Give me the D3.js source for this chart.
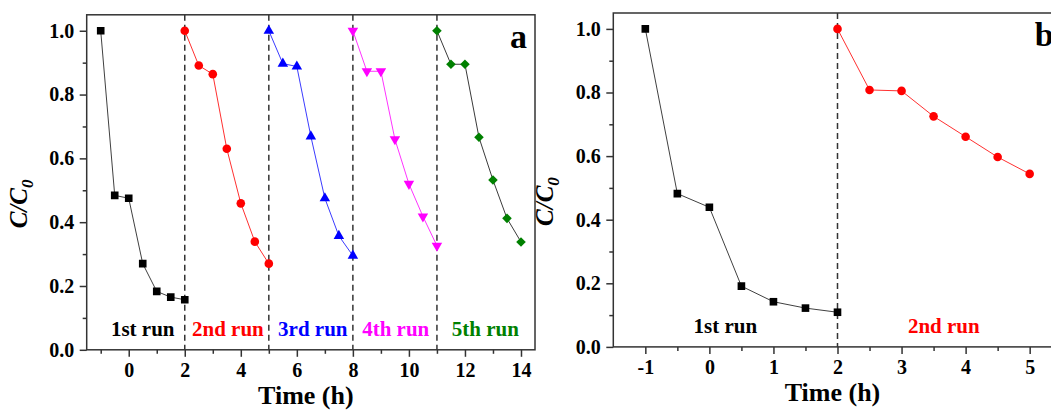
<!DOCTYPE html>
<html>
<head>
<meta charset="utf-8">
<script src="https://cdn.jsdelivr.net/npm/d3@7"></script>
<style>
  html, body { margin: 0; padding: 0; background: #ffffff; }
  svg { display: block; }
  text { font-family: "Liberation Serif", "Times New Roman", serif; font-weight: bold; }
</style>
</head>
<body>
<svg id="chart" width="1051" height="412"></svg>
<script>
// ---------------- DATA ----------------
// Panel a : five consecutive runs
const timeA1 = [-1, -0.5, 0, 0.5, 1, 1.5, 2];
const valA1  = [1.0, 0.484, 0.475, 0.270, 0.183, 0.165, 0.157];
const timeA2 = [2, 2.5, 3, 3.5, 4, 4.5, 5];
const valA2  = [1.0, 0.891, 0.864, 0.630, 0.459, 0.339, 0.270];
const timeA3 = [5, 5.5, 6, 6.5, 7, 7.5, 8];
const valA3  = [1.0, 0.897, 0.888, 0.669, 0.475, 0.357, 0.295];
const timeA4 = [8, 8.5, 9, 9.5, 10, 10.5, 11];
const valA4  = [1.0, 0.873, 0.873, 0.660, 0.520, 0.418, 0.326];
const timeA5 = [11, 11.5, 12, 12.5, 13, 13.5, 14];
const valA5  = [1.0, 0.895, 0.895, 0.666, 0.532, 0.412, 0.338];
const dividersA = [2, 5, 8, 11];
const runLabelsA = ["1st run", "2nd run", "3rd run", "4th run", "5th run"];
const runLabelXA = [0.5, 3.54, 6.57, 9.53, 12.73];

// Panel b : two runs
const timeB1 = [-1, -0.5, 0, 0.5, 1, 1.5, 2];
const valB1  = [1.0, 0.482, 0.439, 0.191, 0.142, 0.122, 0.109];
const timeB2 = [2, 2.5, 3, 3.5, 4, 4.5, 5];
const valB2  = [1.0, 0.808, 0.805, 0.725, 0.661, 0.597, 0.544];
const dividersB = [2];
const runLabelsB = ["1st run", "2nd run"];
const runLabelXB = [0.25, 3.66];

// Ticks
const xMajorA = [0, 2, 4, 6, 8, 10, 12, 14];
const xMinorA = [-1, 1, 3, 5, 7, 9, 11, 13];
const xMajorB = [-1, 0, 1, 2, 3, 4, 5];
const xMinorB = [-0.5, 0.5, 1.5, 2.5, 3.5, 4.5];
const yMajor = [0, 0.2, 0.4, 0.6, 0.8, 1.0];
const yMinor = [0.1, 0.3, 0.5, 0.7, 0.9];

// ---------------- STYLE ----------------
const styles = [
  { marker: "#000000", line: "#404040", shape: "square" },
  { marker: "#ff0000", line: "#ff3030", shape: "circle" },
  { marker: "#0000ff", line: "#3b3bff", shape: "triangleUp" },
  { marker: "#ff00ff", line: "#ff33ff", shape: "triangleDown" },
  { marker: "#008000", line: "#3a3a3a", shape: "diamond" }
];

const svg = d3.select("#chart");

function symbolPath(shape) {
  switch (shape) {
    case "square": return { p: d3.symbol(d3.symbolSquare, 58)(), rot: 0 };
    case "circle": return { p: d3.symbol(d3.symbolCircle, 58)(), rot: 0 };
    case "triangleUp": return { p: d3.symbol(d3.symbolTriangle, 48)(), rot: 0 };
    case "triangleDown": return { p: d3.symbol(d3.symbolTriangle, 48)(), rot: 180 };
    case "diamond": return { p: d3.symbol(d3.symbolSquare, 46)(), rot: 45 };
  }
}

const fmtX = d => String(d);           // plain hyphen for negatives, as in the figure
const fmtY = d => d.toFixed(1);

function panel(cfg) {
  const x = d3.scaleLinear().domain(cfg.xDomain).range([cfg.left, cfg.right]);
  const y = d3.scaleLinear().domain([0, 1.05]).range([cfg.bottom, cfg.top]);
  const g = svg.append("g");

  const clipId = "clip" + cfg.name;
  svg.append("clipPath").attr("id", clipId)
    .append("rect").attr("x", cfg.left).attr("y", cfg.top)
    .attr("width", cfg.right - cfg.left).attr("height", cfg.bottom - cfg.top);

  const xAxisMaj = d3.axisBottom(x).tickValues(cfg.xMajor).tickSize(7).tickPadding(6)
    .tickSizeOuter(0).tickFormat(fmtX);
  const xAxisMin = d3.axisBottom(x).tickValues(cfg.xMinor).tickSize(4).tickSizeOuter(0).tickFormat("");
  const yAxisMaj = d3.axisLeft(y).tickValues(yMajor).tickSize(7).tickPadding(5.5)
    .tickSizeOuter(0).tickFormat(fmtY);
  const yAxisMin = d3.axisLeft(y).tickValues(yMinor).tickSize(4).tickSizeOuter(0).tickFormat("");

  [xAxisMaj, xAxisMin].forEach(ax => {
    g.append("g").attr("transform", `translate(0,${cfg.bottom})`).call(ax)
      .call(s => s.select(".domain").remove());
  });
  [yAxisMaj, yAxisMin].forEach(ax => {
    g.append("g").attr("transform", `translate(${cfg.left},0)`).call(ax)
      .call(s => s.select(".domain").remove());
  });
  g.selectAll(".tick line").attr("stroke", "#333").attr("stroke-width", 1.5);
  g.selectAll(".tick text").attr("fill", "#000").style("font-size", "20px")
    .style("font-family", '"Liberation Serif", "Times New Roman", serif').style("font-weight", "bold");

  g.append("rect").attr("x", cfg.left).attr("y", cfg.top)
    .attr("width", cfg.right - cfg.left).attr("height", cfg.bottom - cfg.top)
    .attr("fill", "none").attr("stroke", "#333").attr("stroke-width", 1.5);

  const plot = g.append("g").attr("clip-path", `url(#${clipId})`);
  plot.selectAll(".div").data(cfg.dividers).enter().append("line")
    .attr("x1", d => x(d)).attr("x2", d => x(d))
    .attr("y1", cfg.top).attr("y2", cfg.bottom)
    .attr("stroke", "#333").attr("stroke-width", 1.5).attr("stroke-dasharray", "6,4");

  const line = d3.line().x(d => x(d[0])).y(d => y(d[1]));
  cfg.series.forEach((s, i) => {
    const st = styles[i];
    const pts = s.t.map((t, k) => [t, s.v[k]]);
    plot.append("path").datum(pts).attr("d", line)
      .attr("fill", "none").attr("stroke", st.line).attr("stroke-width", 1);
    const sym = symbolPath(st.shape);
    plot.selectAll(null).data(pts).enter().append("path")
      .attr("d", sym.p)
      .attr("transform", d => `translate(${x(d[0])},${y(d[1])}) rotate(${sym.rot})`)
      .attr("fill", st.marker);
  });

  cfg.labels.forEach((lab, i) => {
    g.append("text").attr("x", x(cfg.labelX[i])).attr("y", cfg.bottom - 14)
      .attr("text-anchor", "middle").style("font-size", "21px")
      .attr("fill", styles[i].marker).text(lab);
  });

  g.append("text").attr("x", cfg.right - 8).attr("y", cfg.top + 33)
    .attr("text-anchor", "end").style("font-size", "34px").attr("fill", "#000").text(cfg.name);

  g.append("text").attr("x", (cfg.left + cfg.right) / 2 - 5).attr("y", cfg.bottom + 54)
    .attr("text-anchor", "middle").style("font-size", "26px").attr("fill", "#000").text("Time (h)");

  const yt = g.append("text")
    .attr("transform", `translate(${cfg.left - 60},${(cfg.top + cfg.bottom) / 2 + 46}) rotate(-90)`)
    .attr("text-anchor", "start").style("font-size", "25px").attr("fill", "#000");
  yt.append("tspan").style("font-style", "italic").text("C/C");
  yt.append("tspan").style("font-style", "italic").style("font-size", "17px").attr("dy", 6).text("0");
}

panel({
  name: "a", left: 86.7, right: 535, top: 14.8, bottom: 349.8,
  xDomain: [-1.5, 14.5], xMajor: xMajorA, xMinor: xMinorA, dividers: dividersA,
  series: [
    { t: timeA1, v: valA1 }, { t: timeA2, v: valA2 }, { t: timeA3, v: valA3 },
    { t: timeA4, v: valA4 }, { t: timeA5, v: valA5 }
  ],
  labels: runLabelsA, labelX: runLabelXA
});

panel({
  name: "b", left: 613.3, right: 1061.7, top: 13, bottom: 346.9,
  xDomain: [-1.5, 5.5], xMajor: xMajorB, xMinor: xMinorB, dividers: dividersB,
  series: [ { t: timeB1, v: valB1 }, { t: timeB2, v: valB2 } ],
  labels: runLabelsB, labelX: runLabelXB
});
</script>
</body>
</html>
